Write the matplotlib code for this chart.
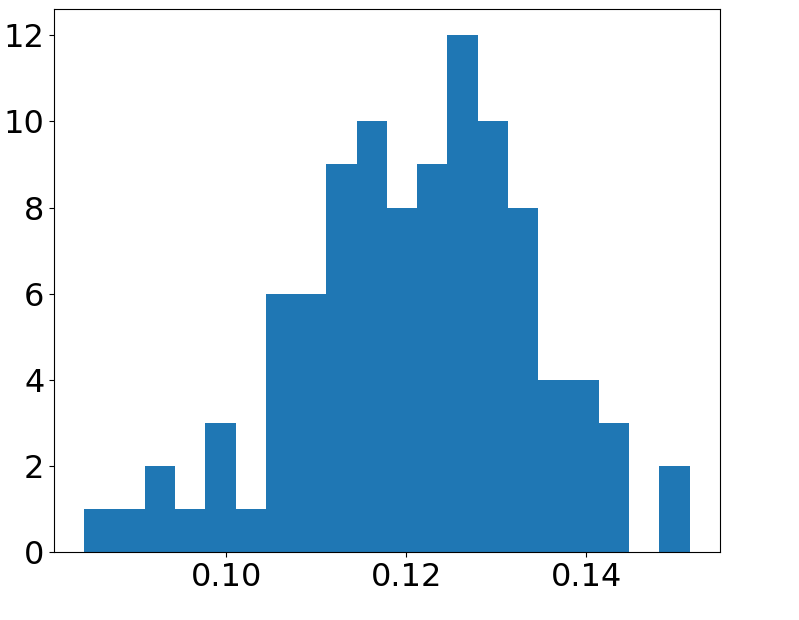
import numpy as np
import matplotlib
matplotlib.use("Agg")
import matplotlib.pyplot as plt

# histogram bin range and counts
x_min = 0.0842
x_max = 0.1515
counts = [1, 1, 2, 1, 3, 1, 6, 6, 9, 10, 8, 9, 12, 10, 8, 4, 4, 3, 0, 2]

edges = np.linspace(x_min, x_max, len(counts) + 1)
centers = (edges[:-1] + edges[1:]) / 2

fig = plt.figure(figsize=(7.99, 6.2), dpi=100)
ax = fig.add_axes([0.0676, 0.109, 0.8334, 0.876])

ax.hist(centers, bins=edges, weights=counts, color="#1f77b4")
ax.set_xticks([0.10, 0.12, 0.14])
ax.tick_params(labelsize=23)

fig.savefig("out.png", dpi=100)
